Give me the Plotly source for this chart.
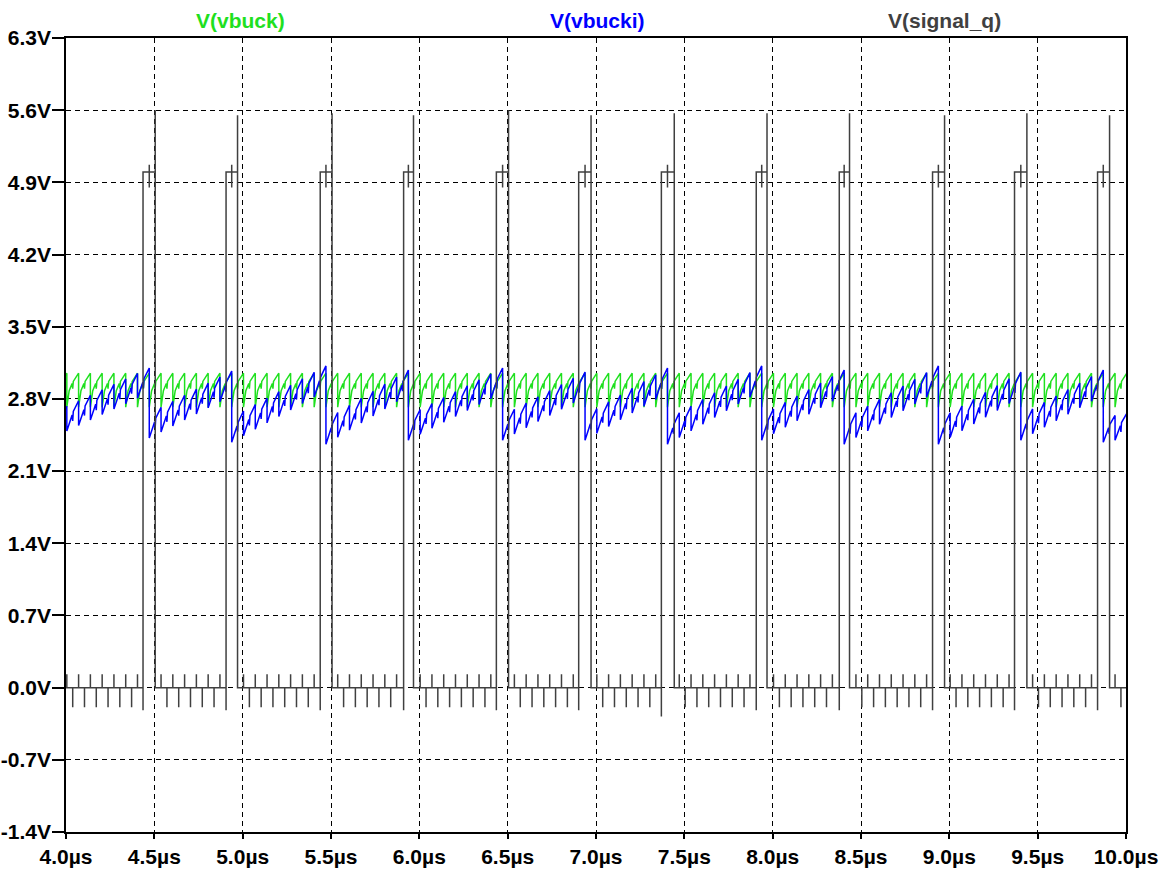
import plotly.graph_objects as go

# ---------------- data ----------------
T_START, T_END = 4.0, 10.0
CLOCK_PERIOD = 1 / 15          # µs, spacing of the small spikes (~11.8 px)
CLOCK_PHASE = 0.07             # clock edge offset (fraction of a period)

# V(signal_q) pulses (µs)
pulse_rise = [4.436, 4.906, 5.439, 5.911, 6.436, 6.902, 7.370, 7.907, 8.377, 8.905, 9.369, 9.839]
pulse_fall = [4.505, 4.971, 5.506, 5.967, 6.505, 6.972, 7.443, 7.968, 8.435, 8.973, 9.439, 9.907]
pulse_spike = [5.60, 5.55, 5.57, 5.55, 5.60, 5.55, 5.57, 5.57, 5.57, 5.55, 5.57, 5.55]
pulse_dip = [-0.22, -0.22, -0.22, -0.22, -0.22, -0.22, -0.28, -0.22, -0.22, -0.22, -0.22, -0.22]
pulse_top = 5.0
ring_hi, ring_lo = 5.07, 4.85
spike_up, spike_down = 0.13, -0.19

# V(vbuck) one clock cycle (phase, volts)
green_phase = [0.0, 0.0, 0.2, 0.45, 0.5, 0.55, 0.8]
green_value = [3.05, 2.72, 2.88, 2.95, 2.90, 2.97, 3.02]

# V(vbucki): ripple on top of a ramp that restarts at every pulse
blue_phase = [0.0, 0.0, 0.45, 0.5, 0.55]
blue_offset = [0.0, -0.24, -0.11, -0.17, -0.08]
blue_seg_start = [2.57, 2.66, 2.62, 2.60, 2.64, 2.64, 2.64, 2.60, 2.64, 2.60, 2.60, 2.64, 2.62]
blue_seg_end = [3.10, 3.07, 3.12, 3.08, 3.10, 3.06, 3.10, 3.12, 3.08, 3.12, 3.06, 3.08, 2.70]

y_ticks = [6.3, 5.6, 4.9, 4.2, 3.5, 2.8, 2.1, 1.4, 0.7, 0.0, -0.7, -1.4]
y_text = ["6.3V", "5.6V", "4.9V", "4.2V", "3.5V", "2.8V", "2.1V", "1.4V", "0.7V", "0.0V", "-0.7V", "-1.4V"]
x_ticks = [4.0, 4.5, 5.0, 5.5, 6.0, 6.5, 7.0, 7.5, 8.0, 8.5, 9.0, 9.5, 10.0]
x_text = ["4.0µs", "4.5µs", "5.0µs", "5.5µs", "6.0µs", "6.5µs", "7.0µs", "7.5µs",
          "8.0µs", "8.5µs", "9.0µs", "9.5µs", "10.0µs"]

GREEN = "#1fe01f"
BLUE = "#0000ff"
GRAY = "#404040"

# ---------------- build traces ----------------
T = CLOCK_PERIOD
edges = [(n + CLOCK_PHASE) * T for n in range(58, 152)]

# green
gx, gy = [], []
for te in edges:
    for ph, v in zip(green_phase, green_value):
        gx.append(te + ph * T)
        gy.append(v)

# blue
drops = []
for r, f in zip(pulse_rise, pulse_fall):
    mid = (r + f) / 2
    n = round(mid / T - CLOCK_PHASE)
    drops.append((n + CLOCK_PHASE) * T)
bounds = [edges[0] - T] + drops + [edges[-1] + T]


def env(t, after):
    for i in range(len(bounds) - 1):
        a, b = bounds[i], bounds[i + 1]
        inside = (a <= t < b) if after else (a < t <= b)
        if inside:
            return blue_seg_start[i] + (blue_seg_end[i] - blue_seg_start[i]) * (t - a) / (b - a)
    return blue_seg_end[-1]


bx, by = [], []
for te in edges:
    for k, (ph, off) in enumerate(zip(blue_phase, blue_offset)):
        t = te + ph * T
        bx.append(t)
        by.append(env(t, after=(k > 0)) + off)

# gray
qx, qy = [], []


def in_pulse(t):
    for r, f in zip(pulse_rise, pulse_fall):
        if r - 0.012 <= t <= f + 0.012:
            return True
    return False


events = []
for te in edges:
    events.append((te, "up"))
    events.append((te + 0.5 * T, "down"))
for i in range(len(pulse_rise)):
    events.append((pulse_rise[i], ("pulse", i)))
events.sort(key=lambda e: e[0])

for t, kind in events:
    if kind == "up":
        if in_pulse(t):
            continue
        qx += [t, t, t]
        qy += [0.0, spike_up, 0.0]
    elif kind == "down":
        if in_pulse(t):
            continue
        qx += [t, t, t]
        qy += [0.0, spike_down, 0.0]
    else:
        i = kind[1]
        r, f = pulse_rise[i], pulse_fall[i]
        tm = drops[i]
        qx += [r, r, r, tm, tm, tm, tm, f, f, f]
        qy += [0.0, pulse_dip[i], pulse_top, pulse_top, ring_hi, ring_lo, pulse_top,
               pulse_top, pulse_spike[i], 0.0]

fig = go.Figure()
fig.add_trace(go.Scatter(x=gx, y=gy, mode="lines", line=dict(color=GREEN, width=1.5), name="V(vbuck)"))
fig.add_trace(go.Scatter(x=bx, y=by, mode="lines", line=dict(color=BLUE, width=1.5), name="V(vbucki)"))
fig.add_trace(go.Scatter(x=qx, y=qy, mode="lines", line=dict(color=GRAY, width=1.5), name="V(signal_q)"))

FONT_FAMILY = "Liberation Sans, Arial, sans-serif"
font = dict(family=FONT_FAMILY, size=21, color="black", weight="bold")
axis_common = dict(
    showgrid=True, gridcolor="black", gridwidth=1.2, griddash="5px,4px",
    showline=True, linecolor="black", linewidth=1.5, mirror=True,
    ticks="outside", tickcolor="black", tickwidth=1.5, zeroline=False,
    tickfont=font, automargin=False,
)
fig.update_layout(
    width=1169, height=878,
    margin=dict(l=66, r=43, t=38, b=46, pad=0),
    paper_bgcolor="white", plot_bgcolor="white",
    showlegend=False,
    xaxis=dict(range=[T_START, T_END], tickvals=x_ticks, ticktext=x_text, ticklen=5, **axis_common),
    yaxis=dict(range=[-1.4, 6.3], tickvals=y_ticks, ticktext=y_text, ticklen=12,
               ticklabelstandoff=-3, **axis_common),
)
for txt, xp, col in [("V(vbuck)", 0.165, GREEN), ("V(vbucki)", 0.501, BLUE), ("V(signal_q)", 0.829, GRAY)]:
    fig.add_annotation(text=txt, xref="paper", yref="paper", x=xp, y=1, yshift=18,
                       xanchor="center", yanchor="middle", showarrow=False,
                       font=dict(family=FONT_FAMILY, size=21, color=col, weight="bold"))

fig.write_html("out.html")
